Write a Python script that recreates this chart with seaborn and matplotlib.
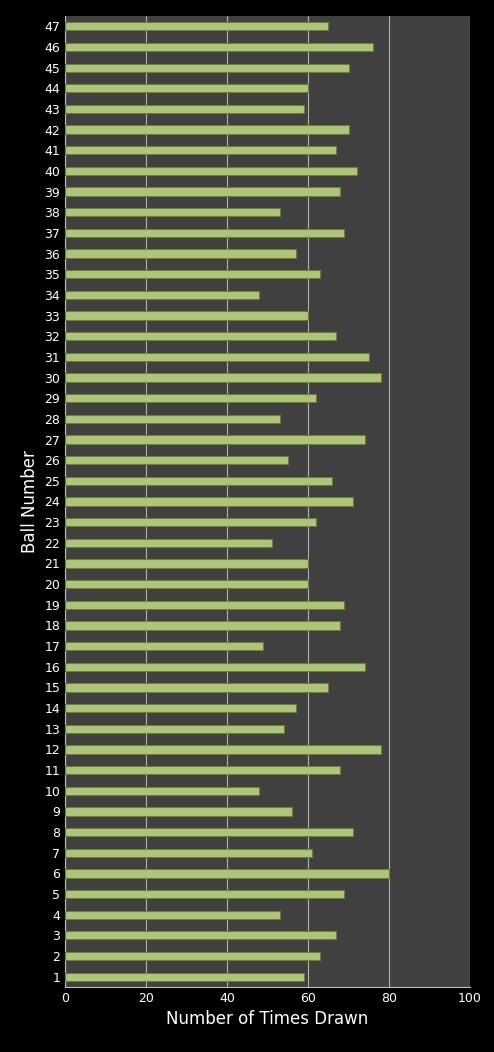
import matplotlib
matplotlib.use("Agg")
import matplotlib.pyplot as plt
import seaborn as sns
import pandas as pd

balls = list(range(1, 48))
drawn = [59, 63, 67, 53, 69, 80, 61, 71, 56, 48,
         68, 78, 54, 57, 65, 74, 49, 68, 69, 60,
         60, 51, 62, 71, 66, 55, 74, 53, 62, 78,
         75, 67, 60, 48, 63, 57, 69, 53, 68, 72,
         67, 70, 59, 60, 70, 76, 65]

df = pd.DataFrame({"ball": [str(b) for b in balls], "drawn": drawn})
order = [str(b) for b in reversed(balls)]

sns.set_style("dark")
fig = plt.figure(figsize=(4.94, 10.52), dpi=100, facecolor="black")
ax = fig.add_axes([65 / 494, 1 - 987 / 1052, 405 / 494, 971 / 1052])
ax.set_facecolor("#404040")

sns.barplot(data=df, x="drawn", y="ball", order=order, color="#b3d36a",
            width=0.4, edgecolor="#6b7f35", linewidth=0.8, ax=ax, zorder=3)
ax.set_xlim(0, 100)
ax.set_xticks([0, 20, 40, 60, 80, 100])
ax.grid(axis="x", color="#b0b0b0", linewidth=0.8, zorder=0)
ax.grid(axis="y", visible=False)
for s in ax.spines.values():
    s.set_visible(False)
ax.spines["left"].set_visible(True)
ax.spines["left"].set_color("#c0c0c0")
ax.spines["bottom"].set_visible(True)
ax.spines["bottom"].set_color("#c0c0c0")
ax.tick_params(colors="white", labelsize=9, length=0)
ax.set_xlabel("Number of Times Drawn", color="white", fontsize=12)
ax.set_ylabel("Ball Number", color="white", fontsize=12)

fig.savefig("out.png", facecolor="black")
